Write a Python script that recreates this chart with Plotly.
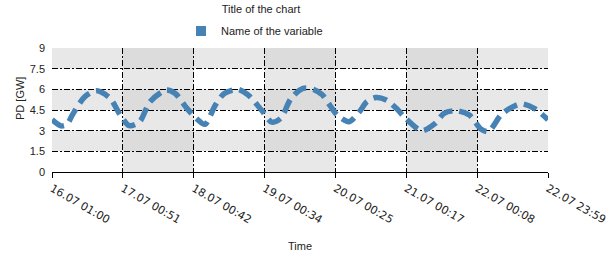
import pandas as pd
import plotly.graph_objects as go

# ---- data ----
start_time = "2024-07-16 01:00"
end_time = "2024-07-22 23:59"
hours = [0, 3, 5, 7, 11, 15, 19.5, 23, 26, 29.5, 33, 38.5, 41.5, 45.5, 48.5, 51.5,
         55, 58, 62.5, 66, 70.5, 74, 77, 80.5, 84.5, 88, 91, 93.5, 96, 100, 103.5,
         106, 109, 112.5, 116, 119, 124.5, 129, 132, 136, 140.5, 144.5, 147, 151,
         154, 158, 162.5, 166.98]
values = [3.8, 3.35, 3.45, 4.2, 5.45, 5.9, 5.37, 4.13, 3.36, 3.65, 5.1, 5.95, 5.7,
          4.6, 3.9, 3.46, 4.86, 5.7, 6.0, 5.6, 4.5, 3.62, 3.9, 5.35, 6.07, 6.0, 5.6,
          4.86, 4.13, 3.65, 4.38, 5.1, 5.4, 5.22, 4.6, 3.9, 3.0, 3.53, 4.26, 4.45,
          4.13, 3.1, 2.95, 4.1, 4.6, 4.95, 4.6, 3.8]
tick_labels = ["16.07 01:00", "17.07 00:51", "18.07 00:42", "19.07 00:34",
               "20.07 00:25", "21.07 00:17", "22.07 00:08", "22.07 23:59"]
y_ticks = [0, 1.5, 3, 4.5, 6, 7.5, 9]
series_name = "Name of the variable"
title_text = "Title of the chart"
y_title = "PD [GW]"
x_title = "Time"

t0 = pd.Timestamp(start_time)
t1 = pd.Timestamp(end_time)
times = t0 + pd.to_timedelta(hours, unit="h")
n_int = len(tick_labels) - 1
tick_pos = [t0 + (t1 - t0) * k / n_int for k in range(n_int + 1)]

LINE = "#4682b4"
BAND = "#e8e8e8"
BAND2 = "#dcdcdc"
FONT = "Liberation Sans"
TICKFONT = "DejaVu Sans"
TXT = "#222222"

fig = go.Figure()
fig.add_trace(go.Scatter(
    x=times, y=values, mode="lines", showlegend=False,
    line=dict(color=LINE, width=5.5, dash="14px,7px", shape="spline", smoothing=0.8),
    hoverinfo="skip"))
fig.add_trace(go.Scatter(
    x=[None], y=[None], mode="markers", name=series_name,
    marker=dict(symbol="square", size=10, color=LINE)))

shapes = []
h_bands = [(y_ticks[i], y_ticks[i + 1]) for i in range(1, len(y_ticks) - 1, 2)]
v_bands = [(tick_pos[i], tick_pos[i + 1]) for i in range(1, n_int, 2)]
for (y0, y1) in h_bands:
    shapes.append(dict(type="rect", xref="paper", yref="y", x0=0, x1=1, y0=y0, y1=y1,
                       fillcolor=BAND, line=dict(width=0), layer="below"))
for (x0, x1) in v_bands:
    shapes.append(dict(type="rect", xref="x", yref="paper", x0=x0, x1=x1, y0=0, y1=1,
                       fillcolor=BAND, line=dict(width=0), layer="below"))
for (x0, x1) in v_bands:
    for (y0, y1) in h_bands:
        shapes.append(dict(type="rect", xref="x", yref="y", x0=x0, x1=x1, y0=y0, y1=y1,
                           fillcolor=BAND2, line=dict(width=0), layer="below"))

W, H = 609, 261
L, R, T, B = 52, 61, 48, 89
pw = W - L - R
ph = H - T - B

fig.update_layout(
    width=W, height=H,
    margin=dict(l=L, r=R, t=T, b=B, pad=0, autoexpand=False),
    paper_bgcolor="white", plot_bgcolor="white",
    font=dict(family=FONT, size=11, color=TXT),
    shapes=shapes,
    title=dict(text=title_text, x=261 / W, xanchor="center", xref="container",
               y=1 - 9 / H, yanchor="middle", yref="container",
               font=dict(family=FONT, size=11, color=TXT)),
    legend=dict(orientation="h", x=(181 - L) / pw, xanchor="left",
                y=1 + (48 - 31) / ph, yanchor="middle",
                font=dict(family=FONT, size=11, color=TXT),
                bgcolor="rgba(0,0,0,0)", itemwidth=30),
    xaxis=dict(type="date", range=[t0, t1], tickmode="array", tickvals=tick_pos,
               ticktext=tick_labels, tickangle=30, showgrid=True, gridcolor="black",
               gridwidth=1, griddash="6px,2px,2px,2px", showline=True, linecolor="black",
               linewidth=1, ticks="outside", ticklen=5, tickcolor="black",
               zeroline=False, automargin=False,
               tickfont=dict(family=TICKFONT, size=11, color=TXT)),
    yaxis=dict(range=[0, 9], tickmode="array", tickvals=y_ticks,
               ticktext=[f"{v:g}" for v in y_ticks], showgrid=True, gridcolor="black",
               gridwidth=1, griddash="6px,2px,2px,2px", showline=False, zeroline=False,
               ticks="", ticklabelstandoff=6, automargin=False,
               tickfont=dict(family=FONT, size=11, color=TXT)),
    annotations=[
        dict(text=y_title, xref="paper", yref="paper", x=(20 - L) / pw,
             y=(H - B - 99) / ph, textangle=-90, showarrow=False,
             xanchor="center", yanchor="middle",
             font=dict(family=FONT, size=11, color=TXT)),
        dict(text=x_title, xref="paper", yref="paper", x=(300 - L) / pw,
             y=-(246 - (H - B)) / ph, showarrow=False,
             xanchor="center", yanchor="middle",
             font=dict(family=FONT, size=11, color=TXT)),
    ],
)

fig.write_html("out.html")
